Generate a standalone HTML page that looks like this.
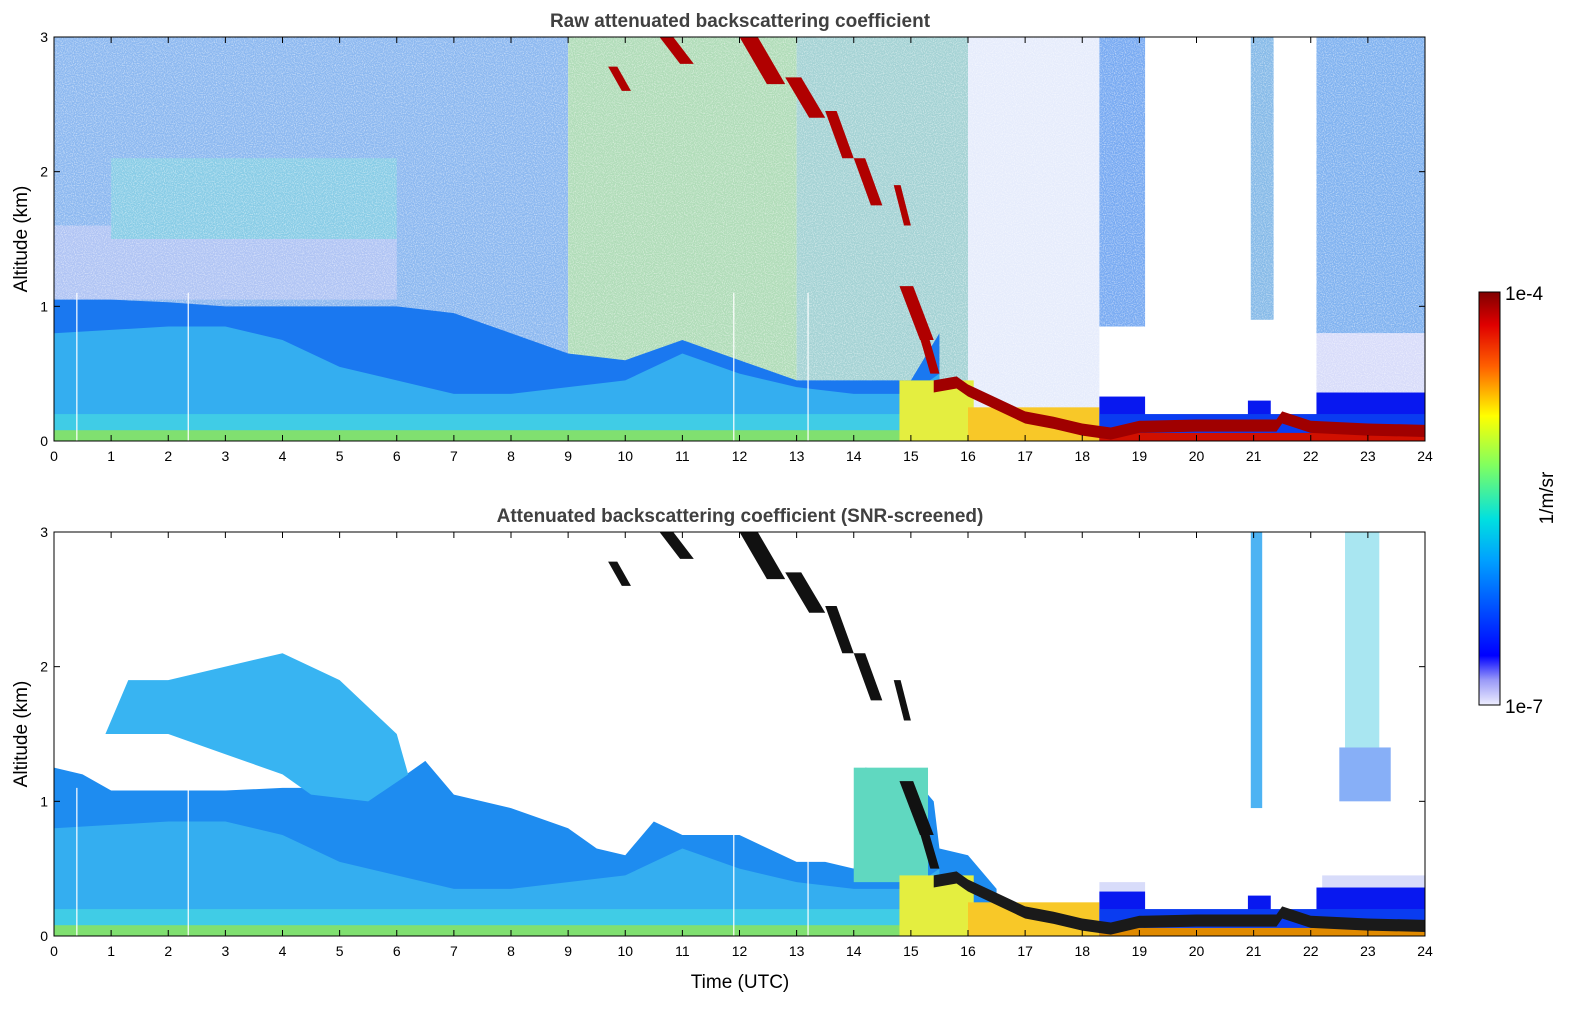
<!DOCTYPE html>
<html><head><meta charset="utf-8">
<style>
html,body{margin:0;padding:0;background:#fff;}
svg{display:block;font-family:"Liberation Sans","DejaVu Sans",sans-serif;}
</style></head>
<body>
<svg id="fig" width="1595" height="1020" viewBox="0 0 1595 1020" xmlns="http://www.w3.org/2000/svg">
<defs>
<linearGradient id="jet" x1="0" y1="1" x2="0" y2="0">
<stop offset="0" stop-color="#eeeefe"/><stop offset="0.06" stop-color="#9a9af8"/><stop offset="0.12" stop-color="#0000ff"/>
<stop offset="0.35" stop-color="#00a0ff"/><stop offset="0.45" stop-color="#00e0e0"/><stop offset="0.58" stop-color="#80ff60"/>
<stop offset="0.7" stop-color="#ffff00"/><stop offset="0.82" stop-color="#ff6000"/><stop offset="0.92" stop-color="#e00000"/>
<stop offset="1" stop-color="#800000"/></linearGradient>
<filter id="speck" x="0" y="0" width="100%" height="100%"><feTurbulence type="fractalNoise" baseFrequency="0.9" numOctaves="1" seed="3"/><feColorMatrix type="matrix" values="0 0 0 0 1  0 0 0 0 1  0 0 0 0 1  0 0 0 1.4 -0.6"/></filter>
</defs>
<g id="top"></g>
<g id="bot"></g>
<g id="cbar">
<rect x="1479" y="292" width="21" height="413" fill="url(#jet)" stroke="#000" stroke-width="1"/>
<text x="1505" y="300" font-size="19">1e-4</text>
<text x="1505" y="713" font-size="19">1e-7</text>
<text transform="translate(1553,498) rotate(-90)" text-anchor="middle" font-size="19">1/m/sr</text>
</g>
</svg>
<script>
// ---- data (time in UTC hours, altitude in km) ----
const xTicks=[0,1,2,3,4,5,6,7,8,9,10,11,12,13,14,15,16,17,18,19,20,21,22,23,24];
const yTicks=[0,1,2,3];
const blTimes=[0,1,2,3,4,5,6,7,8,9,10,11,12,13,14,15,15.5,15.5];
const blTop  =[1.05,1.05,1.03,1.0,1.0,1.0,1.0,0.95,0.8,0.65,0.6,0.75,0.6,0.45,0.45,0.45,0.8,0];
const cyTimes=[0,2,3,4,5,6,7,8,9,10,11,12,13,14,15,15.5];
const cyTop  =[0.8,0.85,0.85,0.75,0.55,0.45,0.35,0.35,0.4,0.45,0.65,0.5,0.4,0.35,0.35,0.5];
const redTimes=[15.4,15.8,16,16.5,17,17.5,18,18.5,19,20,21,21.4,21.5,22,23,24];
const redTop  =[0.45,0.48,0.42,0.32,0.22,0.18,0.13,0.1,0.15,0.16,0.16,0.16,0.22,0.15,0.13,0.12];
const sblTimes=[0,0.5,1,2,3,4,5,6,6.5,7,8,9,9.5,10,10.5,11,12,13,13.5,14,14.2,15,15.4,15.5,16,16.5];
const sblTop  =[1.25,1.2,1.08,1.08,1.08,1.1,1.1,1.15,1.3,1.05,0.95,0.8,0.65,0.6,0.85,0.75,0.75,0.55,0.55,0.5,1.25,1.2,1.0,0.65,0.6,0.35];
const aerTimes=[0.9,1.3,2,3,4,5,6,6.2,5.5,4.5,4,3,2,1.2,0.9];
const aerTop  =[1.5,1.9,1.9,2.0,2.1,1.9,1.5,1.2,1.0,1.05,1.2,1.35,1.5,1.5,1.5];
const cloudT0 =[9.7,10.6,12.0,12.8,13.5,14.0,14.7,14.8,15.1];
const cloudT1 =[10.1,11.2,12.8,13.5,14.0,14.5,15.0,15.4,15.5];
const cloudHi =[2.78,3.0,3.0,2.7,2.45,2.1,1.9,1.15,0.85];
const cloudLo =[2.6,2.8,2.65,2.4,2.1,1.75,1.6,0.75,0.5];

const X=t=>54+t*57.125;
function mk(p,tag,attrs,name){const e=document.createElementNS('http://www.w3.org/2000/svg',tag);for(const k in attrs)e.setAttribute(k,attrs[k]);


p.appendChild(e);return e;}
function panel(gid,y0,raw){
 const g=document.getElementById(gid);const Y=a=>y0+404-a*134.67;
 const rect=(t0,t1,a0,a1,fill,name)=>mk(g,'rect',{x:X(t0),y:Y(a1),width:X(t1)-X(t0),height:Y(a0)-Y(a1),fill:fill},name);
 const poly=(ts,as,base,fill,name)=>{let pts=ts.map((t,i)=>X(t)+','+Y(as[i]));pts.push(X(ts[ts.length-1])+','+Y(base),X(ts[0])+','+Y(base));mk(g,'polygon',{points:pts.join(' '),fill:fill},name);};
 const band=(ts,as,th,fill,name)=>{let pts=ts.map((t,i)=>X(t)+','+Y(as[i]));for(let i=ts.length-1;i>=0;i--)pts.push(X(ts[i])+','+Y(Math.max(0,as[i]-th)));mk(g,'polygon',{points:pts.join(' '),fill:fill},name);};
 if(raw){
  rect(0,9,0,3,'#8cb8f0','upper-noise-early');
  rect(0,6,1.05,1.6,'#b0c4f4','residual-layer');
  rect(1,6,1.5,2.1,'#88cce6','aerosol-layer');
  rect(9,13,0,3,'#b0dcb8','upper-noise-mid');
  rect(13,16,0,3,'#a4d2d4','upper-noise-late');
  rect(16,18.3,0,3,'#e6ecfc','sparse-noise');
  rect(18.3,19.1,0.85,3,'#78aaf2','noise-column-19');
  rect(20.95,21.35,0.9,3,'#86bae8','noise-column-21');
  rect(22.1,24,0.8,3,'#80b2f0','noise-column-23');
  rect(22.1,24,0.3,0.8,'#d8dcfa','faint-column-23');
  rect(0,24,0,3,'#fff','noise-texture').setAttribute('filter','url(#speck)');
 }
 poly(raw?blTimes:sblTimes,raw?blTop:sblTop,0,raw?'#1a78f0':'#1e8cf0','boundary-layer');
 if(!raw){poly(aerTimes,aerTop,aerTop[0],'#38b4f2','aerosol-layer');
  rect(20.95,21.15,0.95,3,'#20a0f0','cloud-column-21').setAttribute('opacity','0.8');
  rect(22.5,23.4,1.0,1.4,'#1060f0','cloud-column-23-low').setAttribute('opacity','0.5');
  rect(22.6,23.2,1.4,3,'#40c8e0','cloud-column-23-high').setAttribute('opacity','0.45');
  rect(22.2,24,0,0.45,'#d8dcfa','faint-layer-23');
  rect(18.3,19.1,0,0.4,'#d8dcfa','faint-layer-19');
  rect(14.0,15.3,0.4,1.25,'#60d8c0','cloud-mass-14');}
 poly(cyTimes,cyTop,0,'#34aef0','lower-aerosol');
 rect(0,15.5,0,0.2,'#40cce6','surface-layer');
 rect(0,15.5,0,0.08,'#80e070','surface-green');
 rect(14.8,16.1,0,0.45,'#e4ee40','yellow-aerosol');
 rect(16,18.3,0,0.25,'#f8c828','orange-near-surface');
 rect(18.3,19.1,0,0.33,'#0818f0','blue-layer-19');
 rect(20.9,21.3,0,0.3,'#0818f0','blue-layer-21');
 rect(22.1,24,0,0.36,'#0818f0','blue-layer-23');
 rect(18.3,24,0,0.2,'#0a3cf0','blue-rim');
 rect(18.3,24,0,0.06,raw?'#d01000':'#e08a00','near-surface-strip');
 band(redTimes,redTop,0.09,raw?'#a00000':'#1a1a1a','dense-aerosol-layer');
 for(let i=0;i<cloudT0.length;i++){
  const t0=cloudT0[i],t1=cloudT1[i];
  mk(g,'polygon',{points:[X(t0)+','+Y(cloudHi[i]),X(t0+(t1-t0)*0.4)+','+Y(cloudHi[i]),X(t1)+','+Y(cloudLo[i]),X(t1-(t1-t0)*0.4)+','+Y(cloudLo[i])].join(' '),fill:raw?'#b00000':'#111'},'cloud-streak');
 }
 [0.4,2.35,11.9,13.2].forEach(t=>mk(g,'line',{x1:X(t),x2:X(t),y1:Y(0),y2:Y(1.1),stroke:'#fff','stroke-width':1.2},'data-gap'));
 mk(g,'rect',{x:54,y:y0,width:1371,height:404,fill:'none',stroke:'#000','stroke-width':1},'plot-frame');
 xTicks.forEach(t=>{mk(g,'line',{x1:X(t),x2:X(t),y1:y0+404,y2:y0+398,stroke:'#000'},'x-tick');mk(g,'line',{x1:X(t),x2:X(t),y1:y0,y2:y0+6,stroke:'#000'},'x-tick-top');
  const tx=mk(g,'text',{x:X(t),y:y0+424,'font-size':14,'text-anchor':'middle'},'x-tick-label');tx.textContent=t;});
 yTicks.forEach(a=>{mk(g,'line',{x1:54,x2:60,y1:Y(a),y2:Y(a),stroke:'#000'},'y-tick');mk(g,'line',{x1:1419,x2:1425,y1:Y(a),y2:Y(a),stroke:'#000'},'y-tick-right');
  const tx=mk(g,'text',{x:48,y:Y(a)+5,'font-size':14,'text-anchor':'end'},'y-tick-label');tx.textContent=a;});
 const yl=mk(g,'text',{transform:`translate(27,${y0+202}) rotate(-90)`,'font-size':19,'text-anchor':'middle'},'y-axis-title');yl.textContent='Altitude (km)';
 const ti=mk(g,'text',{x:740,y:y0-10,'font-size':19,'font-weight':'bold','text-anchor':'middle',fill:'#404040'},'panel-title');
 ti.textContent=raw?'Raw attenuated backscattering coefficient':'Attenuated backscattering coefficient (SNR-screened)';
}
panel('top',37,true);
panel('bot',532,false);
const xl=mk(document.getElementById('bot'),'text',{x:740,y:988,'font-size':19,'text-anchor':'middle'},'x-axis-title');xl.textContent='Time (UTC)';
</script>
</body></html>
